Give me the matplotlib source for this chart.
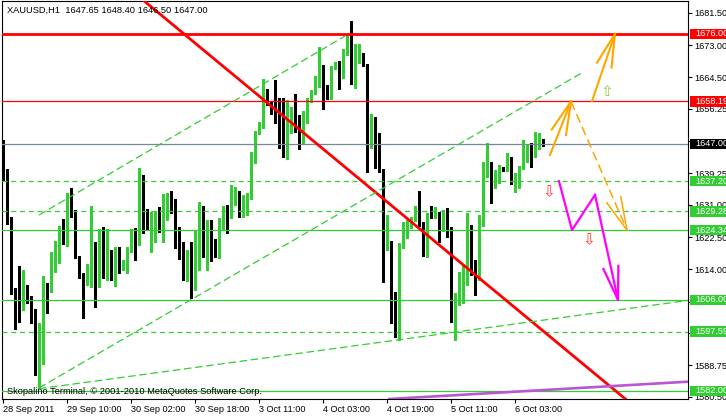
# -*- coding: utf-8 -*-
# xauusd_h1.py
# %%
import numpy as np
import matplotlib.pyplot as plt
import matplotlib.transforms as mtransforms
from matplotlib.patches import Rectangle

plt.rcParams['font.family'] = ['Liberation Sans', 'DejaVu Sans']

# %% Data ---------------------------------------------------------------------

# hourly candles, XAUUSD (bar 0 = 28 Sep 2011 18:00)
opens = [
    1647.2, 1640.2, 1627.0, 1608.6, 1606.2, 1604.6, 1608.8, 1606.6, 1603.3, 1586.8,
    1589.5, 1610.1, 1608.4, 1618.3, 1618.7, 1625.1, 1621.3, 1632.5, 1628.1, 1617.3,
    1612.7, 1610.5, 1615.3, 1620.9, 1611.6, 1623.2, 1615.1, 1616.5, 1614.9, 1619.4,
    1614.3, 1616.0, 1618.9, 1624.4, 1621.0, 1638.0, 1627.7, 1625.4, 1625.5, 1628.3,
    1626.8, 1627.4, 1634.2, 1629.2, 1622.2, 1619.4, 1611.7, 1618.4, 1609.0, 1620.9,
    1628.9, 1622.0, 1623.0, 1621.3, 1617.5, 1626.6, 1628.1, 1627.7, 1631.4, 1633.6,
    1628.3, 1630.8, 1632.7, 1642.5, 1650.0, 1651.7, 1659.9, 1657.5, 1656.8, 1655.9,
    1654.6, 1647.6, 1655.3, 1656.1, 1653.3, 1649.8, 1652.8, 1658.3, 1660.5, 1662.3,
    1664.7, 1661.2, 1659.2, 1667.1, 1667.6, 1664.8, 1671.0, 1675.5, 1663.2, 1668.7,
    1670.0, 1667.6, 1646.3, 1648.7, 1645.0, 1640.2, 1619.6, 1621.1, 1607.3, 1596.8,
    1620.0, 1623.5, 1625.1, 1627.3, 1630.1, 1625.9, 1618.7, 1628.6, 1627.9, 1628.9,
    1624.4, 1628.1, 1623.1, 1603.1, 1605.1, 1605.9, 1614.7, 1621.6, 1616.3, 1611.7,
    1625.7, 1638.6, 1641.0, 1635.8, 1637.1, 1640.6, 1640.3, 1642.3, 1636.7, 1636.8,
    1640.9, 1645.2, 1646.3, 1643.8, 1646.1, 1647.65,
]
highs = [
    1648.0, 1640.5, 1627.8, 1609.0, 1614.9, 1613.8, 1609.9, 1607.0, 1603.6, 1599.8,
    1612.3, 1610.4, 1618.6, 1621.5, 1625.5, 1627.2, 1634.0, 1635.3, 1629.6, 1617.6,
    1613.0, 1615.5, 1630.7, 1621.2, 1624.6, 1625.2, 1624.6, 1619.2, 1620.0, 1620.0,
    1616.5, 1620.0, 1624.6, 1624.8, 1640.6, 1638.8, 1629.9, 1629.2, 1629.4, 1630.5,
    1633.8, 1634.2, 1634.5, 1632.4, 1625.2, 1621.3, 1619.0, 1621.3, 1624.0, 1631.8,
    1630.8, 1627.0, 1627.0, 1622.0, 1627.4, 1630.8, 1630.9, 1636.2, 1635.8, 1634.6,
    1633.6, 1634.2, 1645.0, 1650.5, 1652.9, 1664.0, 1661.4, 1658.0, 1663.8, 1659.2,
    1659.0, 1658.6, 1656.8, 1660.1, 1654.6, 1655.6, 1659.0, 1661.2, 1664.8, 1672.6,
    1667.8, 1662.4, 1667.6, 1668.7, 1668.8, 1672.0, 1676.0, 1679.3, 1673.3, 1673.2,
    1671.0, 1668.0, 1655.0, 1654.2, 1649.8, 1640.5, 1628.3, 1621.5, 1608.0, 1621.0,
    1626.6, 1626.9, 1627.9, 1630.7, 1634.6, 1626.4, 1628.9, 1630.8, 1630.3, 1629.2,
    1629.6, 1630.1, 1625.1, 1607.7, 1613.4, 1615.4, 1628.8, 1625.7, 1616.5, 1628.3,
    1642.3, 1647.2, 1642.3, 1640.2, 1641.4, 1641.0, 1644.6, 1643.5, 1639.3, 1641.3,
    1648.1, 1646.7, 1647.3, 1650.2, 1649.8, 1648.40,
]
lows = [
    1637.5, 1626.0, 1607.5, 1598.3, 1600.1, 1603.3, 1605.1, 1599.8, 1586.2, 1582.7,
    1589.0, 1602.4, 1608.0, 1613.4, 1615.7, 1620.8, 1620.2, 1627.8, 1617.0, 1611.8,
    1601.3, 1610.0, 1609.4, 1604.2, 1609.4, 1611.7, 1611.2, 1611.2, 1609.7, 1613.0,
    1613.8, 1613.0, 1618.5, 1616.5, 1620.5, 1623.5, 1624.5, 1618.7, 1621.3, 1623.8,
    1621.3, 1627.0, 1628.9, 1619.6, 1616.7, 1611.2, 1611.0, 1606.6, 1608.6, 1613.8,
    1617.3, 1613.8, 1616.3, 1617.2, 1617.0, 1624.4, 1623.6, 1627.5, 1631.0, 1627.9,
    1627.7, 1628.2, 1632.4, 1642.0, 1649.5, 1651.3, 1657.2, 1654.8, 1652.4, 1645.9,
    1643.5, 1643.0, 1649.8, 1650.2, 1645.6, 1647.2, 1652.5, 1658.0, 1660.2, 1662.0,
    1656.1, 1658.9, 1658.9, 1666.8, 1661.5, 1664.4, 1670.5, 1662.8, 1661.7, 1668.4,
    1667.5, 1639.5, 1646.0, 1640.6, 1639.5, 1610.8, 1619.0, 1600.0, 1596.3, 1595.5,
    1619.5, 1622.2, 1624.8, 1626.7, 1625.3, 1617.5, 1617.2, 1627.5, 1627.6, 1621.3,
    1624.0, 1622.4, 1600.2, 1595.4, 1604.6, 1605.1, 1609.9, 1612.5, 1607.3, 1611.3,
    1625.3, 1638.3, 1631.4, 1635.5, 1636.8, 1639.9, 1640.0, 1636.4, 1634.4, 1635.3,
    1640.5, 1642.3, 1641.0, 1643.5, 1645.8, 1646.50,
]
closes = [
    1639.7, 1626.8, 1608.3, 1606.0, 1604.6, 1608.8, 1606.4, 1603.1, 1586.8, 1589.5,
    1609.9, 1608.4, 1618.2, 1619.0, 1625.1, 1621.3, 1632.5, 1628.1, 1617.3, 1612.7,
    1610.5, 1615.3, 1620.9, 1611.6, 1623.5, 1615.1, 1616.5, 1614.9, 1619.4, 1614.6,
    1616.2, 1619.1, 1624.4, 1621.0, 1638.4, 1624.4, 1625.2, 1626.2, 1628.3, 1626.8,
    1629.5, 1634.0, 1629.2, 1622.0, 1619.4, 1611.7, 1618.4, 1609.4, 1623.5, 1628.8,
    1622.2, 1623.2, 1622.8, 1617.6, 1627.0, 1628.1, 1627.7, 1631.8, 1633.6, 1629.2,
    1631.0, 1632.7, 1642.5, 1648.1, 1652.0, 1660.3, 1657.7, 1655.5, 1654.6, 1652.0,
    1647.6, 1655.9, 1656.1, 1653.3, 1649.8, 1653.1, 1658.6, 1660.8, 1662.5, 1667.3,
    1661.2, 1659.6, 1667.3, 1667.6, 1664.4, 1671.0, 1674.7, 1663.2, 1668.8, 1669.7,
    1667.8, 1646.3, 1648.7, 1644.8, 1640.2, 1619.6, 1621.3, 1604.6, 1596.8, 1620.5,
    1623.9, 1624.8, 1626.1, 1630.3, 1625.7, 1618.7, 1628.6, 1627.9, 1628.6, 1624.4,
    1628.1, 1622.8, 1603.1, 1605.5, 1606.4, 1615.2, 1621.7, 1615.6, 1611.7, 1625.9,
    1638.8, 1641.0, 1635.8, 1638.0, 1640.9, 1640.2, 1642.3, 1636.7, 1637.3, 1640.9,
    1645.4, 1646.3, 1643.8, 1646.3, 1647.6, 1647.00,
]

time_ticks = [0, 16, 32, 48, 64, 80, 96, 112, 128]
time_labels = ['28 Sep 2011', '29 Sep 10:00', '30 Sep 02:00', '30 Sep 18:00',
               '3 Oct 11:00', '4 Oct 03:00', '4 Oct 19:00', '5 Oct 11:00',
               '6 Oct 03:00']
price_ticks = [1681.50, 1673.00, 1664.50, 1656.25, 1647.75, 1639.25, 1631.00,
               1622.50, 1614.00, 1605.50, 1597.25, 1588.75, 1580.50]

# horizontal levels (price)
levels = [1676.00, 1658.19, 1647.00, 1637.20, 1629.28, 1624.34, 1606.00,
          1597.59, 1582.00]

# trend lines: (bar, price) anchors
red_trend = [(36.25, 1683.8), (136.75, 1596.3)]
channel_top = [(9, 1628.3), (85.5, 1675.4)]
channel_mid = [(9, 1582.8), (145, 1665.9)]
support_ray = [(9, 1582.6), (100.5, 1595.7)]
purple_ray = [(96.75, 1579.9), (171.25, 1584.45)]

# forecast arrows: (bar, price) start -> end
orange_up1 = [(136.75, 1644.1), (142.0, 1658.2)]
orange_up2 = [(147.25, 1658.3), (153.0, 1676.0)]
orange_down = [(142.0, 1658.2), (156.0, 1624.34)]
magenta_bars = [139, 142.25, 148, 153.75]
magenta_prices = [1637.2, 1624.34, 1633.6, 1606.0]

# arrow symbols
up_marks = [(151, 1660.7)]
down_marks = [(136.5, 1634.4), (146.5, 1621.7)]

title = 'XAUUSD,H1  1647.65 1648.40 1646.50 1647.00'
copyright_txt = 'Skopalino Terminal, \u00a9 2001-2010 MetaQuotes Software Corp.'

# %% Figure -------------------------------------------------------------------

GREEN = '#32CD32'
RED = '#FF0000'
W, H = 726, 416

fig = plt.figure(figsize=(W / 100, H / 100), dpi=100)
ax = fig.add_axes([2 / W, 17 / H, 686 / W, 398 / H])
ax.set_xlim(-0.25, 171.25)
ax.set_ylim(1579.89, 1684.63)

# candles
idx = np.arange(len(opens))
o, h, l, c = map(np.asarray, (opens, highs, lows, closes))
cols = np.where(c >= o, GREEN, 'black')
ax.vlines(idx, l, h, colors=cols, lw=0.8, zorder=2, antialiased=False)
ax.bar(idx, np.maximum(np.abs(c - o), 0.3), bottom=np.minimum(o, c),
       width=0.75, color=cols, lw=0, zorder=2, antialiased=False)

# horizontal levels
level_styles = [(RED, 2.0, '-'), (RED, 0.9, '-'), ('#778899', 0.9, '-'),
                (GREEN, 0.9, (0, (4, 3))), (GREEN, 0.9, (0, (4, 3))),
                (GREEN, 0.9, '-'), (GREEN, 0.9, '-'),
                (GREEN, 0.9, (0, (4, 3))), (GREEN, 0.9, '-')]
for lev, (col, lw, ls) in zip(levels, level_styles):
    ax.axhline(lev, color=col, lw=lw, ls=ls, zorder=3)


def segment(pts, **kw):
    (x0, y0), (x1, y1) = pts
    ax.plot([x0, x1], [y0, y1], zorder=3, **kw)


def ray(pts, **kw):
    (x0, y0), (x1, y1) = pts
    x_end = ax.get_xlim()[1] + 5
    y_end = y0 + (y1 - y0) / (x1 - x0) * (x_end - x0)
    ax.plot([x0, x_end], [y0, y_end], zorder=3, **kw)


ax.axline(*red_trend, color=RED, lw=2.0, zorder=3)
segment(channel_top, color=GREEN, lw=0.9, ls=(0, (6, 3)))
segment(channel_mid, color=GREEN, lw=0.9, ls=(0, (6, 3)))
ray(support_ray, color=GREEN, lw=0.9, ls=(0, (6, 3)))
ax.axline(*purple_ray, color='#BA55D3', lw=1.9, zorder=3)


def draw_arrow(start, end, color, lw, ls='-', head_px=34, head_deg=13):
    ax.plot([start[0], end[0]], [start[1], end[1]], color=color, lw=lw,
            ls=ls, zorder=4)
    p0 = ax.transData.transform(start)
    p1 = ax.transData.transform(end)
    back = (p0 - p1) / np.hypot(*(p0 - p1))
    for sign in (-1, 1):
        a = np.radians(sign * head_deg)
        rot = np.array([[np.cos(a), -np.sin(a)], [np.sin(a), np.cos(a)]])
        q = ax.transData.inverted().transform(p1 + head_px * rot @ back)
        ax.plot([q[0], end[0]], [q[1], end[1]], color=color, lw=lw, zorder=4)


draw_arrow(*orange_up1, '#FFA500', 1.5)
draw_arrow(*orange_up2, '#FFA500', 1.5)
draw_arrow(*orange_down, '#FFA500', 1.1, ls=(0, (6, 3)))
ax.plot(magenta_bars[:-1], magenta_prices[:-1], color='#FF00FF', lw=1.6,
        zorder=4)
draw_arrow((magenta_bars[-2], magenta_prices[-2]),
           (magenta_bars[-1], magenta_prices[-1]), '#FF00FF', 1.6)

for x, y in up_marks:
    ax.text(x, y, '\u21e7', family='DejaVu Sans', fontsize=11,
            color='#8CC83C', ha='center', va='center', zorder=5)
for x, y in down_marks:
    ax.text(x, y, '\u21e9', family='DejaVu Sans', fontsize=11,
            color='#FF3030', ha='center', va='center', zorder=5)

# axes, ticks
for sp in ax.spines.values():
    sp.set_color('black')
    sp.set_linewidth(0.8)

ax.set_xticks(time_ticks)
ax.set_xticklabels(time_labels)
for lab in ax.get_xticklabels():
    lab.set_horizontalalignment('left')
ax.tick_params(axis='x', direction='out', length=2.8, pad=1.2,
               labelsize=6.6, width=0.8)

ax.yaxis.tick_right()
ax.set_yticks(price_ticks)
ax.set_yticklabels([f'{p:.2f}' for p in price_ticks])
ax.tick_params(axis='y', direction='out', length=2.8, pad=2,
               labelsize=6.6, width=0.8)

# price labels of the levels
blend = mtransforms.blended_transform_factory(ax.transAxes, ax.transData)
px = ax.transData.transform([(0, 0), (0, 1)])
box_h = 10.5 / (px[1, 1] - px[0, 1])
label_colors = [RED, RED, 'black', GREEN, GREEN, GREEN, GREEN, GREEN, GREEN]
for lev, col in zip(levels, label_colors):
    ax.add_patch(Rectangle((1.0 + 1.5 / 686, lev - box_h / 2), 0.1, box_h,
                           transform=blend, fc=col, ec='none',
                           clip_on=False, zorder=6))
    ax.text(1.0 + 7 / 686, lev, f'{lev:.2f}', transform=blend, color='white',
            fontsize=6.6, ha='left', va='center', clip_on=False, zorder=7)

fig.text(7 / W, 1 - 10.5 / H, title, fontsize=6.7, va='center', ha='left')
fig.text(7 / W, 1 - 391 / H, copyright_txt, fontsize=6.7, va='center',
         ha='left', zorder=5)

fig.savefig('out.png', dpi=100, facecolor='white')
